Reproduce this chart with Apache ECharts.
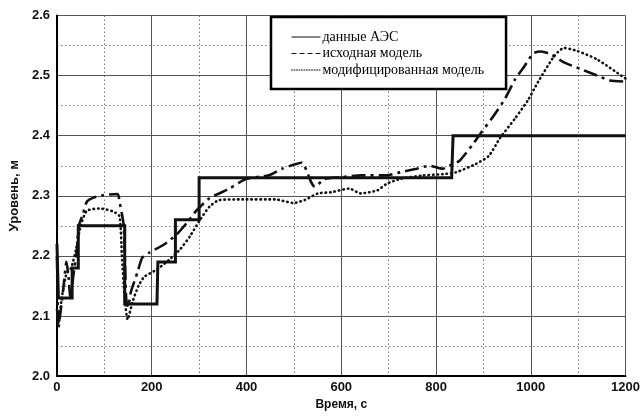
<!DOCTYPE html>
<html>
<head>
<meta charset="utf-8">
<script src="https://cdn.jsdelivr.net/npm/echarts@6/dist/echarts.min.js"></script>
<style>
  html, body { margin: 0; padding: 0; background: #fff; }
  #chart { width: 643px; height: 416px; }
</style>
</head>
<body>
<div id="chart"></div>
<script>
// уровень по данным АЭС и по двум моделям, t в секундах, уровень в м
const SERIES_NAMES = ["данные АЭС", "исходная модель", "модифицированная модель"];

// данные АЭС — ступенчатая линия
const aesT = [0, 3, 32, 32, 45, 45, 143, 143, 211, 213, 250, 250, 300, 300, 833, 836, 1200];
const aesV = [2.22, 2.13, 2.13, 2.18, 2.18, 2.25, 2.25, 2.12, 2.12, 2.19, 2.19, 2.26, 2.26, 2.33, 2.33, 2.40, 2.40];

// исходная модель
const baseT = [0, 3, 8, 14, 20, 25, 28, 35, 42, 46, 55, 63, 77, 97, 128, 132, 137, 141, 146, 150, 156,
  170, 180, 194, 226, 253, 274, 295, 322, 364, 399, 447, 475, 516, 537, 544, 565, 600, 641, 696, 724,
  759, 786, 814, 828, 849, 877, 897, 918, 946, 967, 987, 1005, 1022, 1043, 1070, 1105, 1140, 1167, 1200];
const baseV = [2.20, 2.08, 2.11, 2.15, 2.19, 2.16, 2.13, 2.17, 2.21, 2.25, 2.27, 2.29, 2.297, 2.301, 2.303, 2.29, 2.27, 2.25, 2.13, 2.115, 2.14,
  2.173, 2.197, 2.205, 2.219, 2.236, 2.255, 2.276, 2.296, 2.312, 2.328, 2.334, 2.345, 2.355, 2.322, 2.315, 2.328, 2.331, 2.334, 2.334, 2.339,
  2.345, 2.35, 2.345, 2.35, 2.358, 2.385, 2.407, 2.429, 2.462, 2.494, 2.516, 2.537, 2.54, 2.535, 2.522, 2.511, 2.50, 2.492, 2.49];

// модифицированная модель
const modT = [0, 4, 10, 20, 30, 40, 50, 63, 90, 118, 132, 137, 143, 149, 160, 172, 184, 212, 239, 260, 281,
  302, 322, 343, 392, 461, 499, 523, 551, 579, 617, 641, 676, 696, 724, 773, 814, 842, 884, 911, 935,
  967, 994, 1015, 1050, 1070, 1098, 1140, 1200];
const modV = [2.11, 2.09, 2.13, 2.17, 2.18, 2.21, 2.25, 2.275, 2.279, 2.274, 2.266, 2.20, 2.13, 2.094, 2.125, 2.15, 2.165, 2.178, 2.195, 2.211, 2.233,
  2.26, 2.282, 2.293, 2.294, 2.294, 2.288, 2.293, 2.304, 2.306, 2.312, 2.304, 2.309, 2.32, 2.328, 2.334, 2.336, 2.339, 2.353, 2.366, 2.396,
  2.429, 2.459, 2.489, 2.533, 2.546, 2.541, 2.527, 2.495];

const zip = (t, v) => t.map((x, i) => [x, v[i]]);

const chart = echarts.init(document.getElementById("chart"), null, { renderer: "canvas" });

const tickFont = { color: "#111", fontFamily: "Liberation Sans", fontWeight: "bold", fontSize: 12 };
const noMark = { opacity: 0 };

chart.setOption({
  backgroundColor: "#fff",
  animation: false,
  grid: { left: 51.5, right: 14, top: 15.5, bottom: 33.7, containLabel: false },
  xAxis: {
    type: "value", min: 0, max: 1200, interval: 200,
    name: "Время, с", nameLocation: "middle", nameGap: 21,
    nameTextStyle: { ...tickFont, fontSize: 12 },
    axisLine: { show: true, lineStyle: { color: "#000", width: 2 } },
    axisTick: { show: false },
    axisLabel: { ...tickFont, fontSize: 13, margin: 5, formatter: v => String(v) },
    splitLine: { show: true, lineStyle: { color: "#555", width: 1 } },
    minorTick: { show: false, splitNumber: 2 },
    minorSplitLine: { show: true, lineStyle: { color: "#777", width: 1, type: [1.5, 2.5] } },
  },
  yAxis: {
    type: "value", min: 2.0, max: 2.6, interval: 0.1,
    name: "Уровень, м", nameLocation: "middle", nameGap: 35, nameRotate: 90,
    nameTextStyle: { ...tickFont, fontSize: 13 },
    axisLine: { show: true, lineStyle: { color: "#000", width: 2 } },
    axisTick: { show: false },
    axisLabel: { ...tickFont, fontSize: 13, margin: 7, formatter: v => v.toFixed(1) },
    splitLine: { show: true, lineStyle: { color: "#555", width: 1 } },
    minorTick: { show: false, splitNumber: 2 },
    minorSplitLine: { show: true, lineStyle: { color: "#777", width: 1, type: [1.5, 2.5] } },
  },
  legend: {
    orient: "vertical", left: 271, top: 17,
    padding: [13, 22, 12, 20],
    itemWidth: 29, itemHeight: 14, itemGap: 2.5,
    backgroundColor: "#fff", borderColor: "#000", borderWidth: 2.5, borderRadius: 0,
    itemStyle: noMark,
    textStyle: { color: "#000", fontFamily: "Liberation Serif", fontSize: 14, padding: [0, 0, 0, -3] },
    data: [
      { name: SERIES_NAMES[0], itemStyle: noMark, lineStyle: { width: 1, type: "solid" } },
      { name: SERIES_NAMES[1], itemStyle: noMark, lineStyle: { width: 1, type: [5, 3] } },
      { name: SERIES_NAMES[2], itemStyle: noMark, lineStyle: { width: 1, type: [1, 1.5] } },
    ],
  },
  series: [
    {
      name: SERIES_NAMES[0], type: "line", data: zip(aesT, aesV),
      symbol: "none", z: 4,
      lineStyle: { color: "#111", width: 3, join: "miter" },
      itemStyle: { color: "#111" },
    },
    {
      name: SERIES_NAMES[1], type: "line", data: zip(baseT, baseV),
      symbol: "none", z: 3, smooth: 0.2,
      lineStyle: { color: "#111", width: 2.6, type: [14, 5, 3, 5] },
      itemStyle: { color: "#111" },
    },
    {
      name: SERIES_NAMES[2], type: "line", data: zip(modT, modV),
      symbol: "none", z: 3, smooth: 0.2,
      lineStyle: { color: "#111", width: 2.6, type: [0.5, 4], cap: "round" },
      itemStyle: { color: "#111" },
    },
  ],
});
</script>
</body>
</html>
